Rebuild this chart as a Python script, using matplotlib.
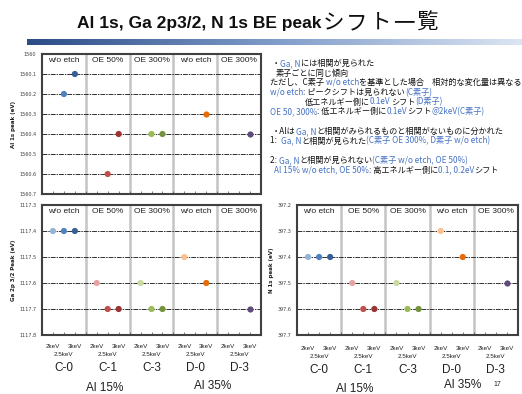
import matplotlib
matplotlib.use("Agg")
import matplotlib.pyplot as plt
import numpy as np

nan = np.nan

# categories
samples = ["C-0", "C-1", "C-3", "D-0", "D-3"]
treat = ["w/o etch", "OE 50%", "OE 300%", "w/o etch", "OE 300%"]
kev = ["2keV", "2.5keV", "3keV"]

# peak positions (eV), rows = samples, cols = 2 / 2.5 / 3 keV
al_1s = [[nan, 1560.2, 1560.1],
         [nan, 1560.6, 1560.4],
         [nan, 1560.4, 1560.4],
         [nan, nan, 1560.3],
         [nan, nan, 1560.4]]
ga_2p = [[1117.4, 1117.4, 1117.4],
         [1117.6, 1117.7, 1117.7],
         [1117.6, 1117.7, 1117.7],
         [1117.5, nan, 1117.6],
         [nan, nan, 1117.7]]
n_1s = [[397.4, 397.4, 397.4],
        [397.5, 397.6, 397.6],
        [397.5, 397.6, 397.6],
        [397.3, nan, 397.4],
        [nan, nan, 397.5]]

al_ticks = [1560.0, 1560.1, 1560.2, 1560.3, 1560.4, 1560.5, 1560.6, 1560.7]
ga_ticks = [1117.3, 1117.4, 1117.5, 1117.6, 1117.7, 1117.8]
n_ticks = [397.2, 397.3, 397.4, 397.5, 397.6, 397.7]

shades = [["#95b3d7", "#4f81bd", "#365f94"],
          ["#e6a3a1", "#c0504d", "#9a3432"],
          ["#c9dca0", "#9bbb59", "#76923c"],
          ["#fac090", "#f79646", "#e46c0a"],
          ["#b3a2c7", "#8064a2", "#604a7b"]]

W, H = 522, 394
fig = plt.figure(figsize=(W / 100, H / 100), dpi=100)
fig.patch.set_facecolor("white")
JP = ["Noto Sans CJK JP", "DejaVu Sans"]


def fx(px):
    return px / W


def fy(py):
    return 1 - py / H


def panel(l, t, r, b, vals, ticks, ylabel, ylab_x):
    ax = fig.add_axes([fx(l), fy(b), fx(r - l), (b - t) / H])
    ax.set_xlim(0, 20)
    ax.set_ylim(ticks[-1], ticks[0])
    for v in ticks[1:-1]:
        ax.axhline(v, color="#303030", lw=0.7, ls=(0, (5, 1, 1.5, 1)), zorder=1)
    for g in range(1, 5):
        ax.axvline(4 * g, color="#c4c4c4", lw=1.8, zorder=0.5)
    for g in range(5):
        x = 4 * g + np.arange(1, 4)
        y = np.array(vals[g], dtype=float)
        ok = ~np.isnan(y)
        ax.scatter(x[ok], y[ok], s=20, c=[shades[g][k] for k in range(3) if ok[k]],
                   zorder=3, linewidths=0)
        ax.annotate(treat[g], xy=(4 * g + 2, 1), xycoords=("data", "axes fraction"),
                    xytext=(0, -2.5), textcoords="offset points", ha="center", va="top",
                    fontsize=6, color="#202020", family="Liberation Sans")
    ax.set_yticks(ticks)
    ax.set_yticklabels([f"{v:g}" for v in ticks], fontsize=3.5, color="#404040")
    ax.set_xticks(np.arange(0, 21))
    ax.set_xticklabels([])
    ax.tick_params(axis="x", direction="in", length=2, width=0.6, color="#606060")
    ax.tick_params(axis="y", length=0, pad=4)
    for s in ax.spines.values():
        s.set_linewidth(1.5)
        s.set_color("#404040")
    fig.text(fx(ylab_x), fy((t + b) / 2), ylabel, rotation=90, ha="center", va="center",
             fontsize=4, fontweight="bold", color="#202020")
    return ax


def bottom_labels(l, r, b, off):
    gw = (r - l) / 5
    for g in range(5):
        for k in range(3):
            xp = l + gw * g + gw * (k + 1) / 4
            yp = b + off + (8 if k == 1 else 0)
            fig.text(fx(xp), fy(yp), kev[k], ha="center", va="center", fontsize=4.5,
                     family="Liberation Sans", color="#202020")
        fig.text(fx(l + gw * (g + 0.5)), fy(b + off + 22), samples[g], ha="center",
                 va="center", fontsize=8.5, family="Liberation Sans", color="#202020")


panel(42, 54, 261, 194, al_1s, al_ticks, "Al 1s peak (eV)", 14)
panel(42, 205, 261, 335, ga_2p, ga_ticks, "Ga 2p 3/2 Peak (eV)", 14)
panel(297, 205, 518, 335, n_1s, n_ticks, "N 1s peak (eV)", 272)
bottom_labels(42, 261, 335, 11)
bottom_labels(297, 518, 335, 13)

for xp, yp, s in [(105, 388, "Al 15%"), (213, 386, "Al 35%"),
                  (355, 389, "Al 15%"), (463, 385, "Al 35%")]:
    fig.text(fx(xp), fy(yp), s, ha="center", va="center", fontsize=8.5,
             family="Liberation Sans", color="#202020")
fig.text(fx(497), fy(384), "17", ha="center", va="center", fontsize=5,
         family="Liberation Sans", color="#202020")

# header bar with gradient
bar = fig.add_axes([fx(27), fy(45), fx(522 - 27), 6 / H])
grad = np.linspace(0, 1, 256)[None, :]
cmap = matplotlib.colors.LinearSegmentedColormap.from_list(
    "hdr", ["#2b4c86", "#7f9cc9", "#dbe5f3"])
bar.imshow(grad, aspect="auto", cmap=cmap, extent=(0, 1, 0, 1))
bar.axis("off")

renderer = fig.canvas.get_renderer()


def segments(x, y, parts, **kw):
    xp = x
    for s, c in parts:
        t = fig.text(fx(xp), fy(y), s, color=c, va="baseline", ha="left", **kw)
        xp += t.get_window_extent(renderer).width
    return xp


# title: latin part bold, japanese part spaced out like the slide font
xe = segments(77, 28, [("Al 1s, Ga 2p3/2, N 1s BE peak", "#101010")],
              fontsize=12.5, fontweight="bold", family="Liberation Sans")
for i, ch in enumerate("シフト一覧"):
    fig.text(fx(xe + 1 + 23.5 * i), fy(29), ch, va="baseline", ha="left",
             fontsize=15.5, family=JP, color="#101010")

B = "#4472c4"
K = "#101010"
notes = [
    (272, 66, [("・", K), ("Ga, N", B), ("には相関が見られた", K)]),
    (276, 75.5, [("素子ごとに同じ傾向", K)]),
    (270, 85, [("ただし、C素子 ", K), ("w/o etch", B), ("を基準とした場合　相対的な変化量は異なる", K)]),
    (270, 95, [("w/o etch", B), (": ピークシフトは見られない", K), ("(C素子)", B)]),
    (305, 104.5, [("低エネルギー側に", K), ("0.1eV", B), ("シフト", K), ("(D素子)", B)]),
    (270, 114, [("OE 50, 300%", B), (": 低エネルギー側に", K), ("0.1eV", B), ("シフト", K), ("@2keV(C素子)", B)]),
    (272, 134, [("・Alは", K), ("Ga, N", B), ("と相関がみられるものと相関がないものに分かれた", K)]),
    (270, 143.5, [("1:  ", K), ("Ga, N", B), ("と相関が見られた", K), ("(C素子 OE 300%, D素子 w/o etch)", B)]),
    (270, 163, [("2: ", K), ("Ga, N", B), ("と相関が見られない", K), ("(C素子 w/o etch, OE 50%)", B)]),
    (274, 172.5, [("Al 15% w/o etch, OE 50%", B), (": 高エネルギー側に", K), ("0.1, 0.2eV", B), ("シフト", K)]),
]
for x, y, parts in notes:
    segments(x, y, parts, fontsize=5.9, family=JP)

fig.savefig("out.png", dpi=100, facecolor="white")
